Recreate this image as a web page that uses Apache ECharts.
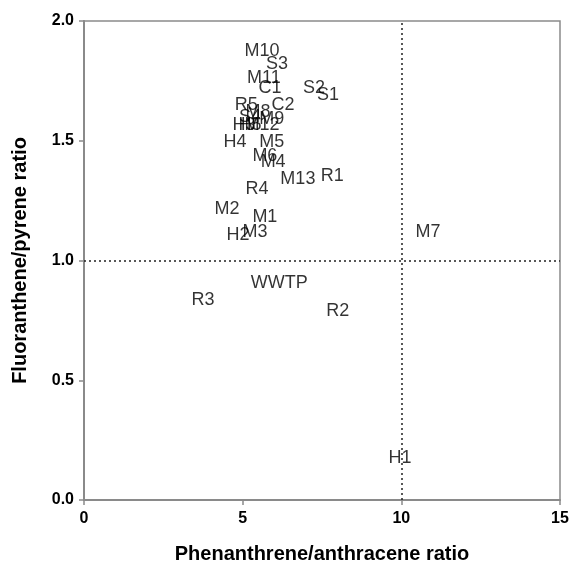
<!DOCTYPE html>
<html>
<head>
<meta charset="utf-8">
<script src="https://cdn.jsdelivr.net/npm/echarts@6/dist/echarts.min.js"></script>
<style>
  html, body { margin: 0; padding: 0; background: #fff; }
  #chart { width: 571px; height: 566px; }
</style>
</head>
<body>
<div id="chart"></div>
<script>
// sample sites and their ratios
const siteNames = ['M10', 'S3', 'M11', 'C1', 'S2', 'S1', 'R5', 'C2', 'M8', 'S4', 'M9', 'H3', 'H5', 'M12',
  'H4', 'M5', 'M6', 'M4', 'M13', 'R1', 'R4', 'M2', 'M1', 'H2', 'M3', 'M7', 'WWTP', 'R3', 'R2', 'H1']
const phenAnth = [5.61, 6.08, 5.67, 5.86, 7.25, 7.69, 5.11, 6.27, 5.48, 5.23, 5.92, 5.04, 5.23, 5.61,
  4.76, 5.92, 5.70, 5.96, 6.74, 7.82, 5.45, 4.51, 5.70, 4.85, 5.39, 10.84, 6.15, 3.75, 8.0, 9.96]
const fluPyr = [1.875, 1.82, 1.76, 1.72, 1.72, 1.69, 1.65, 1.65, 1.62, 1.60, 1.59, 1.566, 1.566, 1.566,
  1.495, 1.495, 1.436, 1.41, 1.34, 1.353, 1.30, 1.215, 1.18, 1.106, 1.12, 1.12, 0.906, 0.835, 0.79, 0.175]

const xTicks = [0, 5, 10, 15]
const yTicks = [0.0, 0.5, 1.0, 1.5, 2.0]
const refX = 10
const refY = 1.0

const chart = echarts.init(document.getElementById('chart'))

chart.setOption({
  animation: false,
  grid: {
    left: 84, right: 11, top: 21, bottom: 66,
    outerBoundsMode: 'none',
    show: true, borderColor: '#8a8a8a', borderWidth: 1.5
  },
  xAxis: {
    type: 'value',
    min: xTicks[0],
    max: xTicks[xTicks.length - 1],
    interval: 5,
    name: 'Phenanthrene/anthracene ratio',
    nameLocation: 'middle',
    nameGap: 44,
    nameTextStyle: { fontFamily: 'Liberation Sans', fontWeight: 'bold', fontSize: 20, color: '#000' },
    axisLine: { lineStyle: { color: '#8a8a8a', width: 2 } },
    axisTick: { inside: false, length: 5, lineStyle: { color: '#8a8a8a', width: 1.5 } },
    axisLabel: { fontFamily: 'Liberation Sans', fontWeight: 'bold', fontSize: 16, color: '#000', margin: 11 },
    splitLine: { show: false }
  },
  yAxis: {
    type: 'value',
    min: yTicks[0],
    max: yTicks[yTicks.length - 1],
    interval: 0.5,
    name: 'Fluoranthene/pyrene ratio',
    nameLocation: 'middle',
    nameGap: 54,
    nameTextStyle: { fontFamily: 'Liberation Sans', fontWeight: 'bold', fontSize: 20, color: '#000' },
    axisLine: { lineStyle: { color: '#8a8a8a', width: 2 } },
    axisTick: { inside: false, length: 5, lineStyle: { color: '#8a8a8a', width: 1.5 } },
    axisLabel: {
      fontFamily: 'Liberation Sans', fontWeight: 'bold', fontSize: 16, color: '#000', margin: 10,
      formatter: v => v.toFixed(1)
    },
    splitLine: { show: false }
  },
  series: [
    {
      type: 'scatter',
      symbolSize: 1,
      itemStyle: { color: 'rgba(0,0,0,0)' },
      data: siteNames.map((n, i) => ({ name: n, value: [phenAnth[i], fluPyr[i]] })),
      label: {
        show: true,
        position: 'inside',
        formatter: p => p.name,
        fontFamily: 'Liberation Sans',
        fontSize: 18,
        color: '#000'
      },
      markLine: {
        silent: true,
        symbol: 'none',
        label: { show: false },
        lineStyle: { color: '#222', type: [2, 3], width: 1.5 },
        data: [{ xAxis: refX }, { yAxis: refY }]
      },
      z: 3
    }
  ]
})
</script>
</body>
</html>
